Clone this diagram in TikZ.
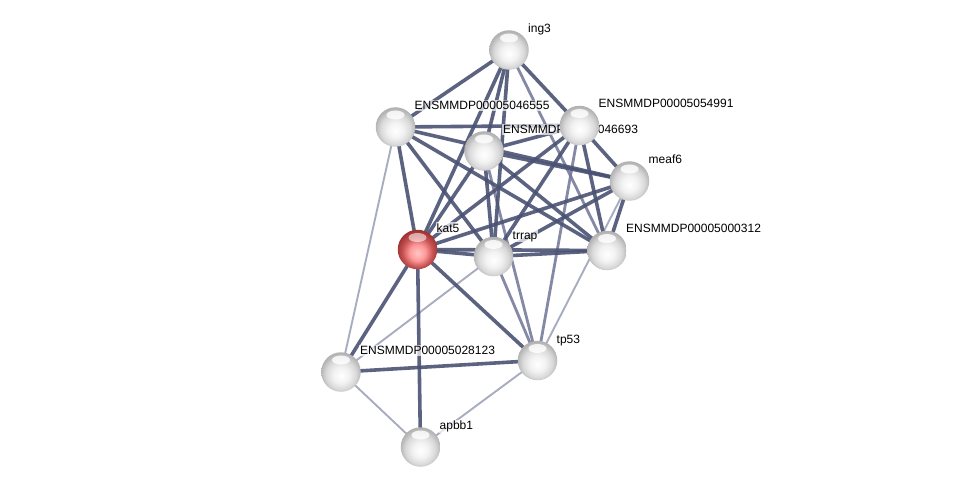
\documentclass[tikz,border=0pt]{standalone}
\usepackage{fontspec}
\setmainfont{Liberation Sans}
\pgfdeclareradialshading{greyball}{\pgfpoint{0bp}{-5bp}}{color(0bp)=(white); color(10bp)=(gray!10); color(19bp)=(gray!30); color(26bp)=(gray!60); color(50bp)=(gray!60)}
\pgfdeclareradialshading{redball}{\pgfpoint{0bp}{-5bp}}{color(0bp)=(red!22!white); color(10bp)=(red!40!white); color(19bp)=(red!50!gray!90); color(26bp)=(red!55!black!80); color(50bp)=(red!55!black!80)}
\definecolor{edgedark}{HTML}{4A5273}
\definecolor{edgemid}{HTML}{6E7596}
\definecolor{edgelight}{HTML}{A8ACC0}
\tikzset{
  strongedge/.style={draw=edgedark, line width=3.6pt, draw opacity=0.9},
  midedge/.style={draw=edgemid, line width=2.8pt, draw opacity=0.85},
  lightedge/.style={draw=edgelight, line width=1.9pt},
  protlabel/.style={anchor=base west, inner sep=1pt, fill=white, fill opacity=0.7, text opacity=1, font=\fontsize{12}{14}\selectfont},
  protnode/.style={circle, minimum size=39.5pt, inner sep=0pt, shading=greyball},
  protred/.style={circle, minimum size=39.5pt, inner sep=0pt, shading=redball}
}
\begin{document}
\begin{tikzpicture}[x=1pt,y=-1pt]
\useasboundingbox (0,0) rectangle (975,492);
% coordinates of proteins
\coordinate (ing3) at (509,50);
\coordinate (e46555) at (395.5,127);
\coordinate (e46693) at (484,151);
\coordinate (e54991) at (579.5,125.5);
\coordinate (meaf6) at (629.5,181);
\coordinate (kat5) at (417.5,249.5);
\coordinate (trrap) at (493.5,256.5);
\coordinate (e00312) at (607,250.5);
\coordinate (e28123) at (341,372);
\coordinate (tp53) at (537.5,360.5);
\coordinate (apbb1) at (420.5,447);
% light edges
\draw[lightedge] (e46555) -- (e28123);
\draw[lightedge] (trrap) -- (e28123);
\draw[lightedge] (e28123) -- (apbb1);
\draw[lightedge] (apbb1) -- (tp53);
\draw[lightedge] (meaf6) -- (tp53);
% medium edges
\draw[midedge] (ing3) -- (e00312);
\draw[midedge] (e54991) -- (tp53);
\draw[midedge] (trrap) -- (tp53);
\draw[midedge] (e46693) -- (tp53);
% strong edges
\draw[strongedge] (ing3) -- (e46555);
\draw[strongedge] (ing3) -- (e54991);
\draw[strongedge] (ing3) -- (kat5);
\draw[strongedge] (ing3) -- (e46693);
\draw[strongedge] (ing3) -- (trrap);
\draw[strongedge] (e46555) -- (e54991);
\draw[strongedge] (e46555) -- (meaf6);
\draw[strongedge] (e46555) -- (kat5);
\draw[strongedge] (e46555) -- (trrap);
\draw[strongedge] (e46555) -- (e00312);
\draw[strongedge] (e46693) -- (e54991);
\draw[strongedge] (e46693) -- (meaf6);
\draw[strongedge] (e46693) -- (kat5);
\draw[strongedge] (e46693) -- (trrap);
\draw[strongedge] (e46693) -- (e00312);
\draw[strongedge] (e54991) -- (meaf6);
\draw[strongedge] (e54991) -- (kat5);
\draw[strongedge] (e54991) -- (trrap);
\draw[strongedge] (e54991) -- (e00312);
\draw[strongedge] (meaf6) -- (kat5);
\draw[strongedge] (meaf6) -- (trrap);
\draw[strongedge] (meaf6) -- (e00312);
\draw[strongedge] (kat5) -- (trrap);
\draw[strongedge] (kat5) -- (e00312);
\draw[strongedge] (trrap) -- (e00312);
\draw[strongedge] (kat5) -- (e28123);
\draw[strongedge] (kat5) -- (apbb1);
\draw[strongedge] (kat5) -- (tp53);
\draw[strongedge] (e28123) -- (tp53);
% labels
\node[protlabel] (l-ing3) at ([shift={(18,-17.5)}]ing3) {ing3};
\node[protlabel] (l-e46555) at ([shift={(18,-17.5)}]e46555) {ENSMMDP00005046555};
\node[protlabel] (l-e46693) at ([shift={(18,-17.5)}]e46693) {ENSMMDP00005046693};
\node[protlabel] (l-e54991) at ([shift={(18,-17.5)}]e54991) {ENSMMDP00005054991};
\node[protlabel] (l-meaf6) at ([shift={(18,-17.5)}]meaf6) {meaf6};
\node[protlabel] (l-kat5) at ([shift={(18,-17.5)}]kat5) {kat5};
\node[protlabel] (l-trrap) at ([shift={(18,-17.5)}]trrap) {trrap};
\node[protlabel] (l-e00312) at ([shift={(18,-17.5)}]e00312) {ENSMMDP00005000312};
\node[protlabel] (l-e28123) at ([shift={(18,-17.5)}]e28123) {ENSMMDP00005028123};
\node[protlabel] (l-tp53) at ([shift={(18,-17.5)}]tp53) {tp53};
\node[protlabel] (l-apbb1) at ([shift={(18,-17.5)}]apbb1) {apbb1};
% nodes
\foreach \n in {ing3,e46555,e46693,e54991,meaf6,trrap,e00312,e28123,tp53,apbb1}{
  \node[protnode] (n-\n) at (\n) {};
  \fill[white, opacity=0.8] ([yshift=12]\n) ellipse (9 and 4.5);
}
\node[protred] (n-kat5) at (kat5) {};
\fill[white, opacity=0.55] ([yshift=12]kat5) ellipse (9 and 4.5);
\end{tikzpicture}
\end{document}
